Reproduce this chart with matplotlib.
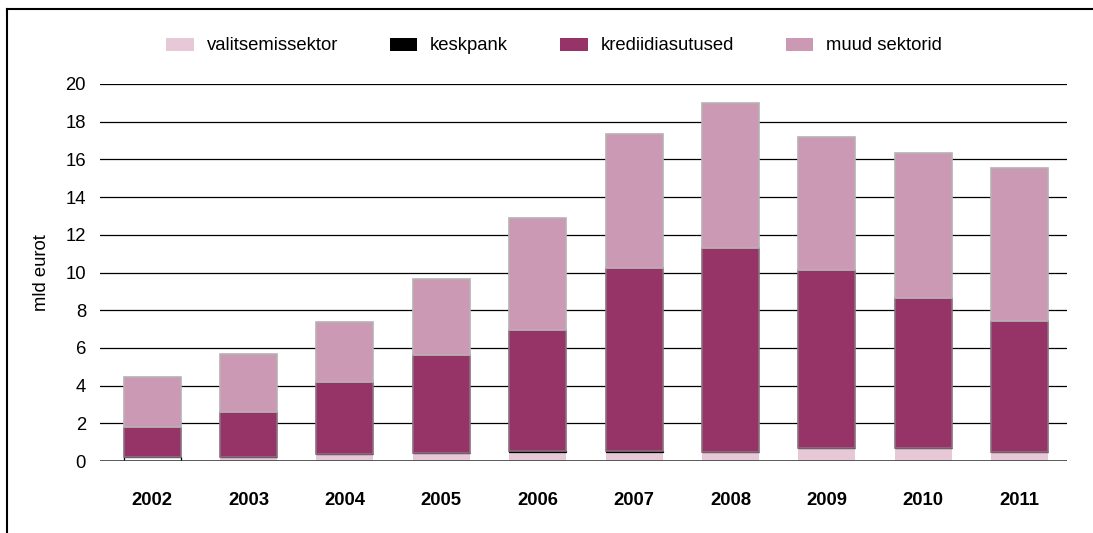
import matplotlib
matplotlib.use("Agg")
import matplotlib.pyplot as plt
import numpy as np
from matplotlib.patches import Patch

years = ["2002", "2003", "2004", "2005", "2006", "2007", "2008", "2009", "2010", "2011"]
valitsemissektor = [0.0, 0.22, 0.35, 0.42, 0.47, 0.46, 0.49, 0.67, 0.71, 0.49]
keskpank = [0.22, 0.0, 0.0, 0.02, 0.04, 0.06, 0.0, 0.0, 0.0, 0.0]
totals_kred_top = [1.8, 2.6, 4.2, 5.6, 6.95, 10.25, 11.3, 10.15, 8.65, 7.45]
krediidiasutused = [t - v - k for t, v, k in zip(totals_kred_top, valitsemissektor, keskpank)]
totals = [4.45, 5.65, 7.4, 9.65, 12.9, 17.35, 19.0, 17.2, 16.35, 15.55]
muud_sektorid = [t - k for t, k in zip(totals, totals_kred_top)]

c_gov = "#e6c8d7"
c_kesk = "#000000"
c_kred = "#963468"
c_muud = "#cc99b4"

plt.rcParams['font.family'] = ['Liberation Sans', 'DejaVu Sans']
FS = 13.3

fig = plt.figure(figsize=(10.93, 5.33), dpi=100)
ax = fig.add_axes([100/1093, 1-461/533, 967/1093, 377/533])

x = np.arange(len(years))
w = 0.59
b = np.zeros(len(years))
ax.bar(x, valitsemissektor, w, bottom=b, color=c_gov, edgecolor="none", zorder=3)
b += np.array(valitsemissektor)
kesk_face = ["white" if i == 0 else c_kesk for i in range(len(years))]
ax.bar(x, keskpank, w, bottom=b, color=kesk_face, edgecolor="black", linewidth=0.9, zorder=3)
b += np.array(keskpank)
ax.bar(x, krediidiasutused, w, bottom=b, color=c_kred, edgecolor="#8a7080", linewidth=1.2, zorder=3)
b += np.array(krediidiasutused)
ax.bar(x, muud_sektorid, w, bottom=b, color=c_muud, edgecolor="#b8b0b4", linewidth=1.2, zorder=3)

ax.set_ylim(0, 20)
ax.set_xlim(-0.54, 9.49)
ax.set_yticks(range(0, 21, 2))
ax.yaxis.grid(True, color="black", linewidth=0.9, zorder=0)
ax.axhline(0, color="#333333", linewidth=1.8, zorder=4)
for s in ax.spines.values():
    s.set_visible(False)
ax.tick_params(axis="y", length=0, pad=10, labelsize=FS)
ax.tick_params(axis="x", length=0, pad=22, labelsize=FS)
ax.set_xticks(x)
ax.set_xticklabels(years, fontweight="bold")
ax.set_ylabel("mld eurot", fontsize=FS, labelpad=11)

handles = [Patch(facecolor=c_gov), Patch(facecolor=c_kesk), Patch(facecolor=c_kred), Patch(facecolor=c_muud)]
labels = ["valitsemissektor", "keskpank", "krediidiasutused", "muud sektorid"]
fig.legend(handles, labels, loc="center", bbox_to_anchor=(554/1093, 1-46/533), ncol=4, frameon=False,
           fontsize=FS, handlelength=1.5, handleheight=0.7, columnspacing=2.8, handletextpad=0.7)

# frame lines (top and left)
fig.add_artist(plt.Line2D([7/1093, 1], [1-9/533, 1-9/533], color="black", linewidth=1.5, transform=fig.transFigure))
fig.add_artist(plt.Line2D([7/1093, 7/1093], [0, 1-9/533], color="black", linewidth=1.5, transform=fig.transFigure))

fig.savefig("out.png", dpi=100)
